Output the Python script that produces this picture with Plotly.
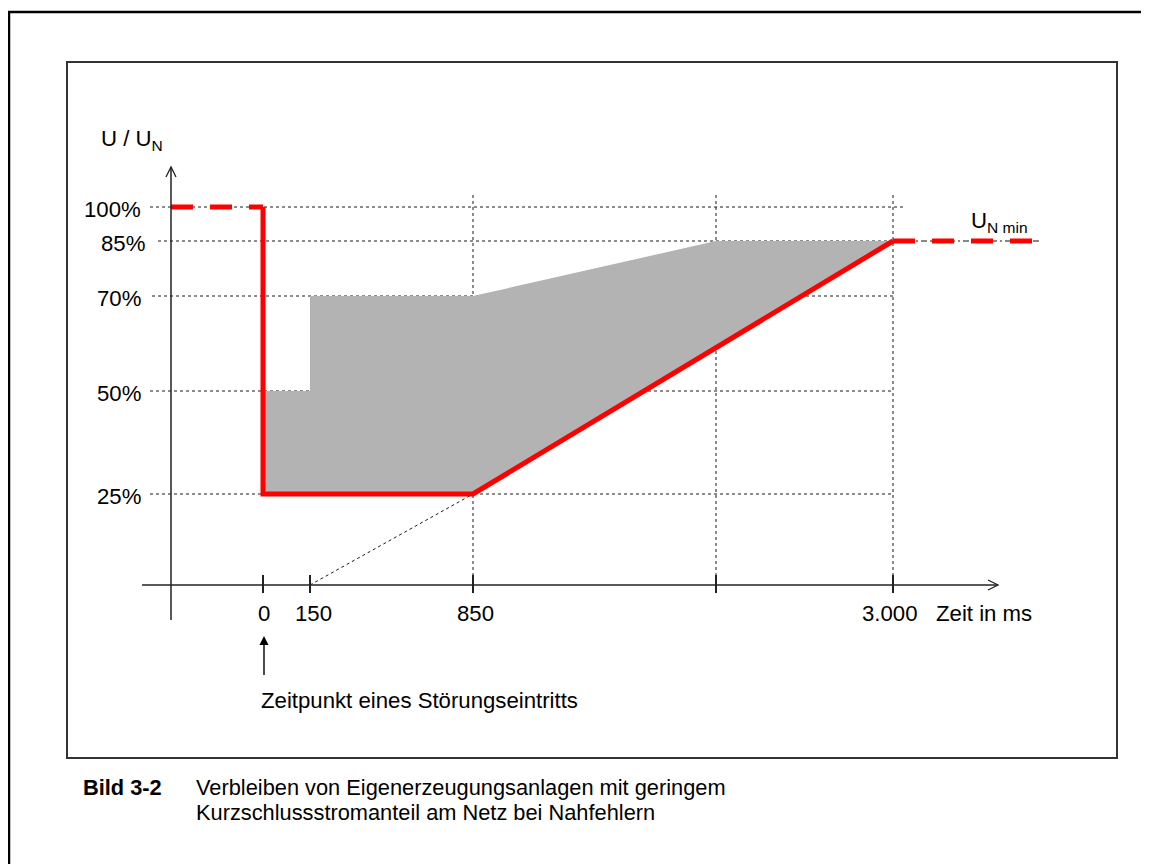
import numpy as np
import plotly.graph_objects as go

# ---------------- data ----------------
TIME_TICKS = [0, 150, 850, 2000, 3000]          # ms (unlabelled tick between 850 and 3000)
TIME_TICK_TEXT = ["0", "150", "850", "", "3.000"]
U_TICKS = [100, 85, 70, 50, 25]                  # % of U_N
U_TICK_TEXT = ["100%", "85%", "70%", "50%", "25%"]

# red limit curve
RED_T = [0, 0, 850, 3000]
RED_U = [100, 25, 25, 85]
PRE_T = [-300, 0]          # before the fault (from the y axis)
PRE_U = [100, 100]
POST_T = [3000, 3700]      # after recovery (U_N min)
POST_U = [85, 85]

# grey region
GREY_T = [0, 150, 150, 850, 2000, 3000, 850, 0]
GREY_U = [50, 50, 70, 70, 85, 85, 25, 25]

# dotted extension of the ramp
EXT_T = [150, 850]
EXT_U = [0, 25]

# ---------------- schematic scale (non-linear drawing) ----------------
T_ANCHOR = [-300, 0, 150, 850, 2000, 3000, 3700]
X_ANCHOR = [171, 263, 310, 473, 716, 893, 1040]
U_ANCHOR = [0, 25, 50, 70, 85, 100]
Y_ANCHOR = [585, 494, 391, 296, 241, 207]


def px(t):
    return list(np.interp(t, T_ANCHOR, X_ANCHOR))


def py(u):
    return list(np.interp(u, U_ANCHOR, Y_ANCHOR))


FONT = "Liberation Sans, Arial, sans-serif"
FS = 22.2
FS_CAP = 21.8
W, H = 1149, 864
OFF = 8   # page body margin
GRID = "#1a1a1a"

fig = go.Figure()

# grey area
fig.add_trace(go.Scatter(x=px(GREY_T), y=py(GREY_U), fill="toself", fillcolor="#b3b3b3",
                         mode="lines", line=dict(width=0), hoverinfo="skip"))
# dotted extension
fig.add_trace(go.Scatter(x=px(EXT_T), y=py(EXT_U), mode="lines",
                         line=dict(color=GRID, width=1, dash="3px,3px"), hoverinfo="skip"))
# dash-dot under U_N min
fig.add_trace(go.Scatter(x=px(POST_T), y=py(POST_U), mode="lines",
                         line=dict(color="#111", width=1, dash="6px,3px,2px,3px"), hoverinfo="skip"))
# red curve
fig.add_trace(go.Scatter(x=px(PRE_T), y=py(PRE_U), mode="lines",
                         line=dict(color="#ff0000", width=5, dash="22px,17px"), hoverinfo="skip"))
fig.add_trace(go.Scatter(x=px(RED_T), y=py(RED_U), mode="lines",
                         line=dict(color="#ff0000", width=5), hoverinfo="skip"))
fig.add_trace(go.Scatter(x=px(POST_T), y=py(POST_U), mode="lines",
                         line=dict(color="#ff0000", width=5, dash="22px,17px"), hoverinfo="skip"))

shapes = []
# frames
shapes.append(dict(type="rect", x0=9, y0=12, x1=W + 20, y1=H + 20,
                   line=dict(color="black", width=2.5), layer="below"))
shapes.append(dict(type="rect", x0=67, y0=62, x1=1117, y1=758,
                   line=dict(color="#333", width=2), layer="below"))

# horizontal dashed grid lines
grid_start = [150, 158, 152, 150, 150]
grid_end = [905, 893, 893, 893, 893]
for u, xs, xe in zip(U_TICKS, grid_start, grid_end):
    y = py([u])[0]
    shapes.append(dict(type="line", x0=xs, x1=xe, y0=y, y1=y,
                       line=dict(color=GRID, width=1, dash="3px,3px"), layer="below"))
# vertical dashed grid lines
for t in [850, 2000, 3000]:
    x = px([t])[0]
    shapes.append(dict(type="line", x0=x, x1=x, y0=195, y1=585,
                       line=dict(color=GRID, width=1, dash="3px,3px"), layer="below"))

# axes
shapes.append(dict(type="line", x0=142, x1=998, y0=585, y1=585,
                   line=dict(color="#222", width=1.5)))
shapes.append(dict(type="line", x0=171, x1=171, y0=620, y1=167,
                   line=dict(color="#222", width=1.5)))
shapes.append(dict(type="path", path="M 988 580 L 998 585 L 988 590",
                   line=dict(color="#222", width=1.3)))
shapes.append(dict(type="path", path="M 166 177 L 171 167 L 176 177",
                   line=dict(color="#222", width=1.3)))
# ticks
for t in TIME_TICKS:
    x = px([t])[0]
    shapes.append(dict(type="line", x0=x, x1=x, y0=575, y1=593,
                       line=dict(color="#222", width=2)))

annotations = []
# y labels
label_right = [143, 147, 143, 143, 143]
for u, txt, xr in zip(U_TICKS, U_TICK_TEXT, label_right):
    annotations.append(dict(x=xr, y=py([u])[0] + 2, text=txt, showarrow=False,
                            xanchor="right", yanchor="middle",
                            font=dict(family=FONT, size=FS, color="black")))
# x labels
label_dx = [1, 3, 2, 0, -3]
for t, txt, dx in zip(TIME_TICKS, TIME_TICK_TEXT, label_dx):
    if txt:
        annotations.append(dict(x=px([t])[0] + dx, y=613, text=txt, showarrow=False,
                                xanchor="center", yanchor="middle",
                                font=dict(family=FONT, size=FS, color="black")))
annotations.append(dict(x=934, y=613, text="Zeit in ms", showarrow=False,
                        xanchor="left", yanchor="middle",
                        font=dict(family=FONT, size=FS, color="black")))
annotations.append(dict(x=99, y=140, text="U / U<sub>N</sub>", showarrow=False,
                        xanchor="left", yanchor="middle",
                        font=dict(family=FONT, size=FS, color="black")))
annotations.append(dict(x=969, y=222, text="U<sub>N min</sub>", showarrow=False,
                        xanchor="left", yanchor="middle",
                        font=dict(family=FONT, size=FS, color="black")))
annotations.append(dict(x=259, y=700, text="Zeitpunkt eines Störungseintritts", showarrow=False,
                        xanchor="left", yanchor="middle",
                        font=dict(family=FONT, size=FS, color="black")))
# arrow to t = 0
annotations.append(dict(x=px([0])[0] + 1, y=636, ax=px([0])[0] + 1, ay=678,
                        axref="x", ayref="y", xref="x", yref="y", text=" ",
                        showarrow=True, arrowhead=2, arrowsize=1.3, arrowwidth=1.4,
                        arrowcolor="black", font=dict(size=2)))
# caption
annotations.append(dict(x=81, y=787, text="<b>Bild 3-2</b>", showarrow=False,
                        xanchor="left", yanchor="middle",
                        font=dict(family=FONT, size=FS_CAP, color="black")))
annotations.append(dict(x=194, y=787, text="Verbleiben von Eigenerzeugungsanlagen mit geringem",
                        showarrow=False, xanchor="left", yanchor="middle",
                        font=dict(family=FONT, size=FS_CAP, color="black")))
annotations.append(dict(x=194, y=812, text="Kurzschlussstromanteil am Netz bei Nahfehlern",
                        showarrow=False, xanchor="left", yanchor="middle",
                        font=dict(family=FONT, size=FS_CAP, color="black")))

fig.update_layout(
    width=W - OFF, height=H - OFF, margin=dict(l=0, r=0, t=0, b=0),
    paper_bgcolor="white", plot_bgcolor="white", showlegend=False,
    xaxis=dict(range=[OFF, W], visible=False, fixedrange=True),
    yaxis=dict(range=[H, OFF], visible=False, fixedrange=True),
    shapes=shapes, annotations=annotations,
)

fig.write_html("out.html")
